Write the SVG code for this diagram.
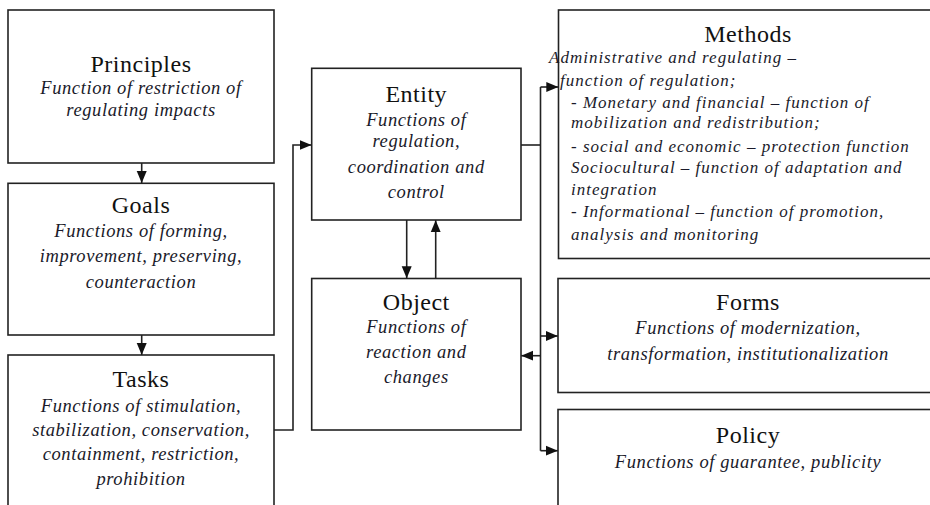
<svg xmlns="http://www.w3.org/2000/svg" width="930" height="505" viewBox="0 0 930 505">
<defs>
<marker id="ah" markerUnits="userSpaceOnUse" markerWidth="13" markerHeight="11" refX="12" refY="5.5" orient="auto">
<path d="M0,0.5 L12,5.5 L0,10.5 z" fill="#111"/>
</marker>
<style>
.box{fill:#fff;stroke:#222;stroke-width:1.6}
.t{font-family:"Liberation Serif","Times New Roman",serif;font-size:24px;letter-spacing:0.5px;fill:#111;text-anchor:middle}
.i{font-family:"Liberation Serif","Times New Roman",serif;font-size:18.5px;font-style:italic;letter-spacing:0.6px;fill:#1a1a2a;text-anchor:middle}
.m{font-family:"Liberation Serif","Times New Roman",serif;font-size:17px;font-style:italic;letter-spacing:1px;fill:#1a1a2a}
.c{fill:none;stroke:#222;stroke-width:1.6}
.ca{fill:none;stroke:#222;stroke-width:1.6;marker-end:url(#ah)}
</style>
</defs>
<rect width="930" height="505" fill="#fff"/>
<g id="principles">
<rect class="box" x="8" y="10" width="266" height="153"/>
<text class="t" x="141" y="71.5">Principles</text>
<text class="i" x="141" y="94">Function of restriction of</text>
<text class="i" x="141" y="116">regulating impacts</text>
</g>
<g id="goals">
<rect class="box" x="8" y="183.3" width="266" height="151.7"/>
<text class="t" x="141" y="213">Goals</text>
<text class="i" x="141" y="237">Functions of forming,</text>
<text class="i" x="141" y="262">improvement, preserving,</text>
<text class="i" x="141" y="288">counteraction</text>
</g>
<g id="tasks">
<rect class="box" x="8" y="355" width="266" height="160"/>
<text class="t" x="141" y="386.7">Tasks</text>
<text class="i" x="141" y="411.7">Functions of stimulation,</text>
<text class="i" x="141" y="435.5">stabilization, conservation,</text>
<text class="i" x="141" y="460">containment, restriction,</text>
<text class="i" x="141" y="485">prohibition</text>
</g>
<g id="entity">
<rect class="box" x="311.7" y="68.3" width="209.3" height="151.7"/>
<text class="t" x="416.3" y="101.7">Entity</text>
<text class="i" x="416.3" y="126">Functions of</text>
<text class="i" x="416.3" y="147.3">regulation,</text>
<text class="i" x="416.3" y="172.7">coordination and</text>
<text class="i" x="416.3" y="198">control</text>
</g>
<g id="object">
<rect class="box" x="311.7" y="278.5" width="209.3" height="151.5"/>
<text class="t" x="416.3" y="310">Object</text>
<text class="i" x="416.3" y="333.3">Functions of</text>
<text class="i" x="416.3" y="358.3">reaction and</text>
<text class="i" x="416.3" y="383.3">changes</text>
</g>
<g id="methods">
<rect class="box" x="558.5" y="10" width="380" height="248.5"/>
<text class="t" x="748" y="41.7">Methods</text>
<text class="m" x="549" y="63.3">Administrative and regulating –</text>
<text class="m" x="560" y="86">function of regulation;</text>
<text class="m" x="571" y="108.3"> - Monetary and financial – function of</text>
<text class="m" x="571" y="128.3">mobilization and  redistribution;</text>
<text class="m" x="571" y="151.7">- social and economic – protection function</text>
<text class="m" x="571" y="173.3">Sociocultural – function of adaptation and</text>
<text class="m" x="571" y="195">integration</text>
<text class="m" x="571" y="216.7">- Informational – function of promotion,</text>
<text class="m" x="571" y="240">analysis and monitoring</text>
</g>
<g id="forms">
<rect class="box" x="558" y="278.5" width="380" height="114"/>
<text class="t" x="748" y="310">Forms</text>
<text class="i" x="748" y="334">Functions of modernization,</text>
<text class="i" x="748" y="360">transformation, institutionalization</text>
</g>
<g id="policy">
<rect class="box" x="558" y="409.5" width="380" height="110"/>
<text class="t" x="748" y="442.7">Policy</text>
<text class="i" x="748" y="468">Functions of guarantee, publicity</text>
</g>
<g id="connectors">
<path class="ca" d="M141.7,163 V183"/>
<path class="ca" d="M141.7,335 V355"/>
<path class="ca" d="M274,430 H293 V145 H311.5"/>
<path class="ca" d="M406.7,220 V278.3"/>
<path class="ca" d="M435.7,278.5 V220.2"/>
<path class="c" d="M521,145 H540.5"/>
<path class="c" d="M540.5,87 V450.7"/>
<path class="ca" d="M540.5,87 H558.3"/>
<path class="ca" d="M540.5,336 H557.8"/>
<path class="ca" d="M540.5,450.7 H557.8"/>
<path class="ca" d="M540.5,355.7 H521.2"/>
</g>
</svg>
